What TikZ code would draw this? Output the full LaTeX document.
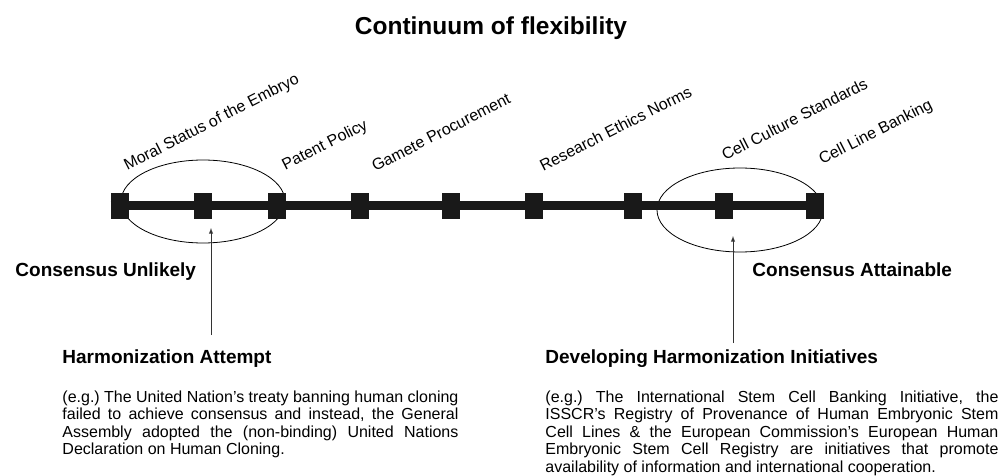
\documentclass[tikz,border=0pt]{standalone}
\usepackage{fontspec}
\setmainfont{Liberation Sans}
\usetikzlibrary{arrows,shapes,positioning}

\begin{document}
\frenchspacing
\begin{tikzpicture}[
  x=1pt, y=-1pt, >=latex, line width=0.9pt,
  tick/.style={rectangle, minimum height=25pt, minimum width=18pt, inner sep=0pt, fill=black!90},
  issue/.style={rotate=27, anchor=base west, inner sep=0pt, font=\fontsize{16}{18}\selectfont},
  pole/.style={anchor=base west, inner sep=0pt, font=\fontsize{19}{22}\selectfont\bfseries},
  zone/.style={ellipse, draw=black, line width=0.8pt, inner sep=0pt},
  blurb/.style={anchor=base west, inner sep=0pt, align=justify, font=\fontsize{16}{17.5}\selectfont}
]
\useasboundingbox (0,0) rectangle (1002,476);

\node[anchor=base, inner sep=0pt, font=\fontsize{24.5}{28}\selectfont\bfseries] (title) at (491,35) {Continuum of flexibility};

% the two clusters
\node[zone, minimum width=164pt, minimum height=83pt] (lowzone) at (203,201.5) {};
\node[zone, minimum width=166pt, minimum height=84pt] (highzone) at (740,210) {};

\node[tick] (sq1) at (120,206) {};
\node[tick] (sq2) at (203,206) {};
\node[tick] (sq3) at (277,206) {};
\node[tick] (sq4) at (360,206) {};
\node[tick] (sq5) at (451,206) {};
\node[tick] (sq6) at (534,206) {};
\node[tick] (sq7) at (633,206) {};
\node[tick] (sq8) at (724,206) {};
\node[tick] (sq9) at (815,206) {};

\draw[line width=9pt, black!90] (sq1.west) -- (sq9.east);

\node[issue] (moral) at (127,171) {Moral Status of the Embryo};
\node[issue] (patent) at (285,171) {Patent Policy};
\node[issue] (gamete) at (375,172) {Gamete Procurement};
\node[issue] (ethics) at (543,172) {Research Ethics Norms};
\node[issue] (culture) at (725,161) {Cell Culture Standards};
\node[issue] (banking) at (822,165) {Cell Line Banking};

\node[pole] (unlikely) at (15,276) {Consensus Unlikely};
\node[pole] (attainable) at (752,276) {Consensus Attainable};

\node[pole] (attempt) at (62,363) {Harmonization Attempt};
\node[pole] (develop) at (545,363) {Developing Harmonization Initiatives};

\node[blurb, text width=396pt] (attempttxt) at (62,402) {(e.g.) The United Nation’s treaty banning human cloning\linebreak failed to achieve consensus and instead, the General\linebreak Assembly adopted the (non-binding) United Nations\linebreak Declaration on Human Cloning.};
\node[blurb, text width=453pt] (developtxt) at (545,402) {(e.g.) The International Stem Cell Banking Initiative, the\linebreak ISSCR’s Registry of Provenance of Human Embryonic Stem\linebreak Cell Lines \& the European Commission’s European Human\linebreak Embryonic Stem Cell Registry are initiatives that promote\linebreak availability of information and international cooperation.};

\coordinate (lowfoot) at (211,335);
\coordinate (lowtip) at (211,228);
\coordinate (highfoot) at (733,343);
\coordinate (hightip) at (733,236);

\draw[->, black!80] (lowfoot) -- (lowtip);
\draw[->, black!80] (highfoot) -- (hightip);

\end{tikzpicture}
\end{document}
